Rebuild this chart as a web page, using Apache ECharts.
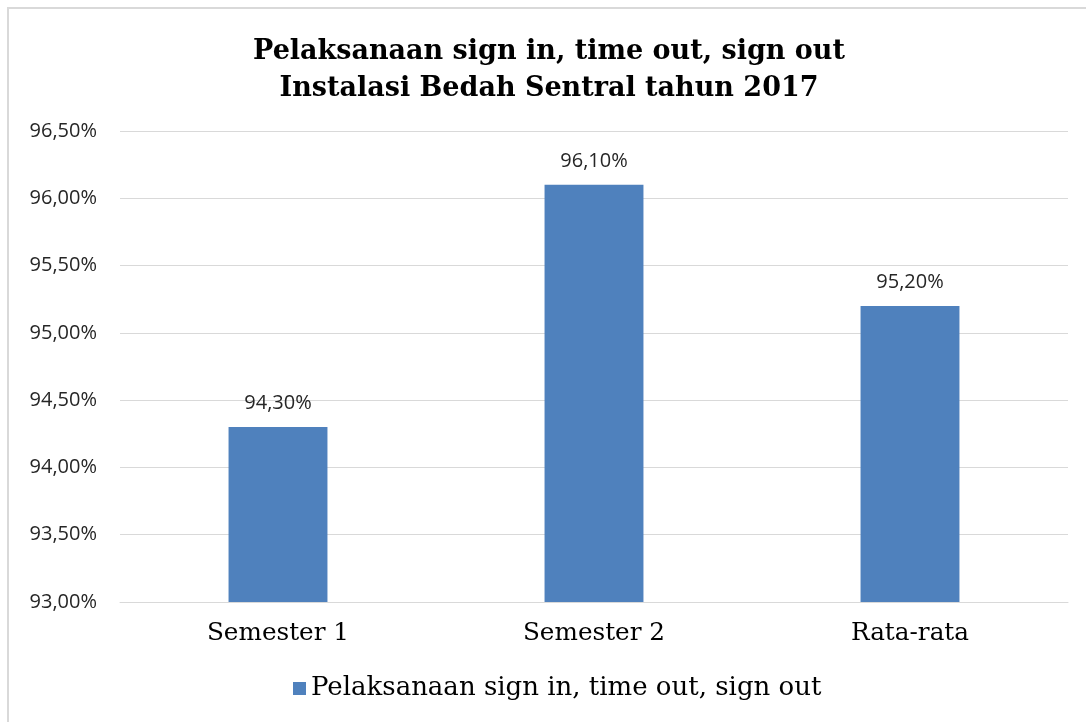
<!DOCTYPE html>
<html>
<head>
<meta charset="utf-8">
<script src="https://cdn.jsdelivr.net/npm/echarts@6/dist/echarts.min.js"></script>
<style>html,body{margin:0;padding:0;background:#fff}#c{width:1086px;height:722px}</style>
</head>
<body>
<div id="c"></div>
<script>
var categories = ['Semester 1', 'Semester 2', 'Rata-rata'];
var seriesName = 'Pelaksanaan sign in, time out, sign out';
var values = [94.30, 96.10, 95.20];
var titleLines = ['Pelaksanaan sign in, time out, sign out', 'Instalasi Bedah Sentral tahun 2017'];
var yMin = 93.0, yMax = 96.5, yStep = 0.5;

function pct(v) { return v.toFixed(2).replace('.', ',') + '%'; }

var titleFont = {fontFamily: 'DejaVu Serif', fontWeight: 'bold', fontSize: 27};

var chart = echarts.init(document.getElementById('c'), null, {renderer: 'canvas'});
chart.setOption({
  animation: false,
  backgroundColor: '#fff',
  graphic: [{
    type: 'rect', silent: true,
    shape: {x: 8, y: 8, width: 1200, height: 800},
    style: {fill: 'none', stroke: '#D9D9D9', lineWidth: 2}
  }, {
    type: 'text', silent: true, x: 549, y: 52,
    style: Object.assign({text: titleLines[0], fill: '#000', align: 'center', verticalAlign: 'middle'}, titleFont)
  }, {
    type: 'text', silent: true, x: 549, y: 89,
    style: Object.assign({text: titleLines[1], fill: '#000', align: 'center', verticalAlign: 'middle'}, titleFont)
  }],
  grid: {left: 120, right: 18, top: 131, bottom: 120, containLabel: false},
  legend: {
    data: [seriesName], left: 293, top: 674, padding: 0, itemGap: 5,
    icon: 'rect', itemWidth: 13, itemHeight: 13,
    textStyle: {fontFamily: 'DejaVu Serif', fontSize: 26, lineHeight: 29, color: '#000', padding: [0, 0, 0, 0]}
  },
  xAxis: {
    type: 'category', data: categories,
    axisLine: {lineStyle: {color: '#D9D9D9', width: 1}},
    axisTick: {show: false},
    axisLabel: {fontFamily: 'DejaVu Serif', fontSize: 24.7, lineHeight: 26, color: '#000', margin: 19}
  },
  yAxis: {
    type: 'value', min: yMin, max: yMax, interval: yStep,
    axisLine: {show: false}, axisTick: {show: false},
    splitLine: {lineStyle: {color: '#D9D9D9', width: 1}},
    axisLabel: {fontFamily: 'Open Sans', fontSize: 20, color: '#262626', margin: 23, formatter: function (v) { return pct(v); }}
  },
  series: [{
    name: seriesName, type: 'bar', data: values,
    barWidth: '31.3%',
    itemStyle: {color: '#4F81BD'},
    label: {show: true, position: 'top', distance: 14, fontFamily: 'Open Sans', fontSize: 20, color: '#262626',
      formatter: function (p) { return pct(p.value); }}
  }]
});
</script>
</body>
</html>
